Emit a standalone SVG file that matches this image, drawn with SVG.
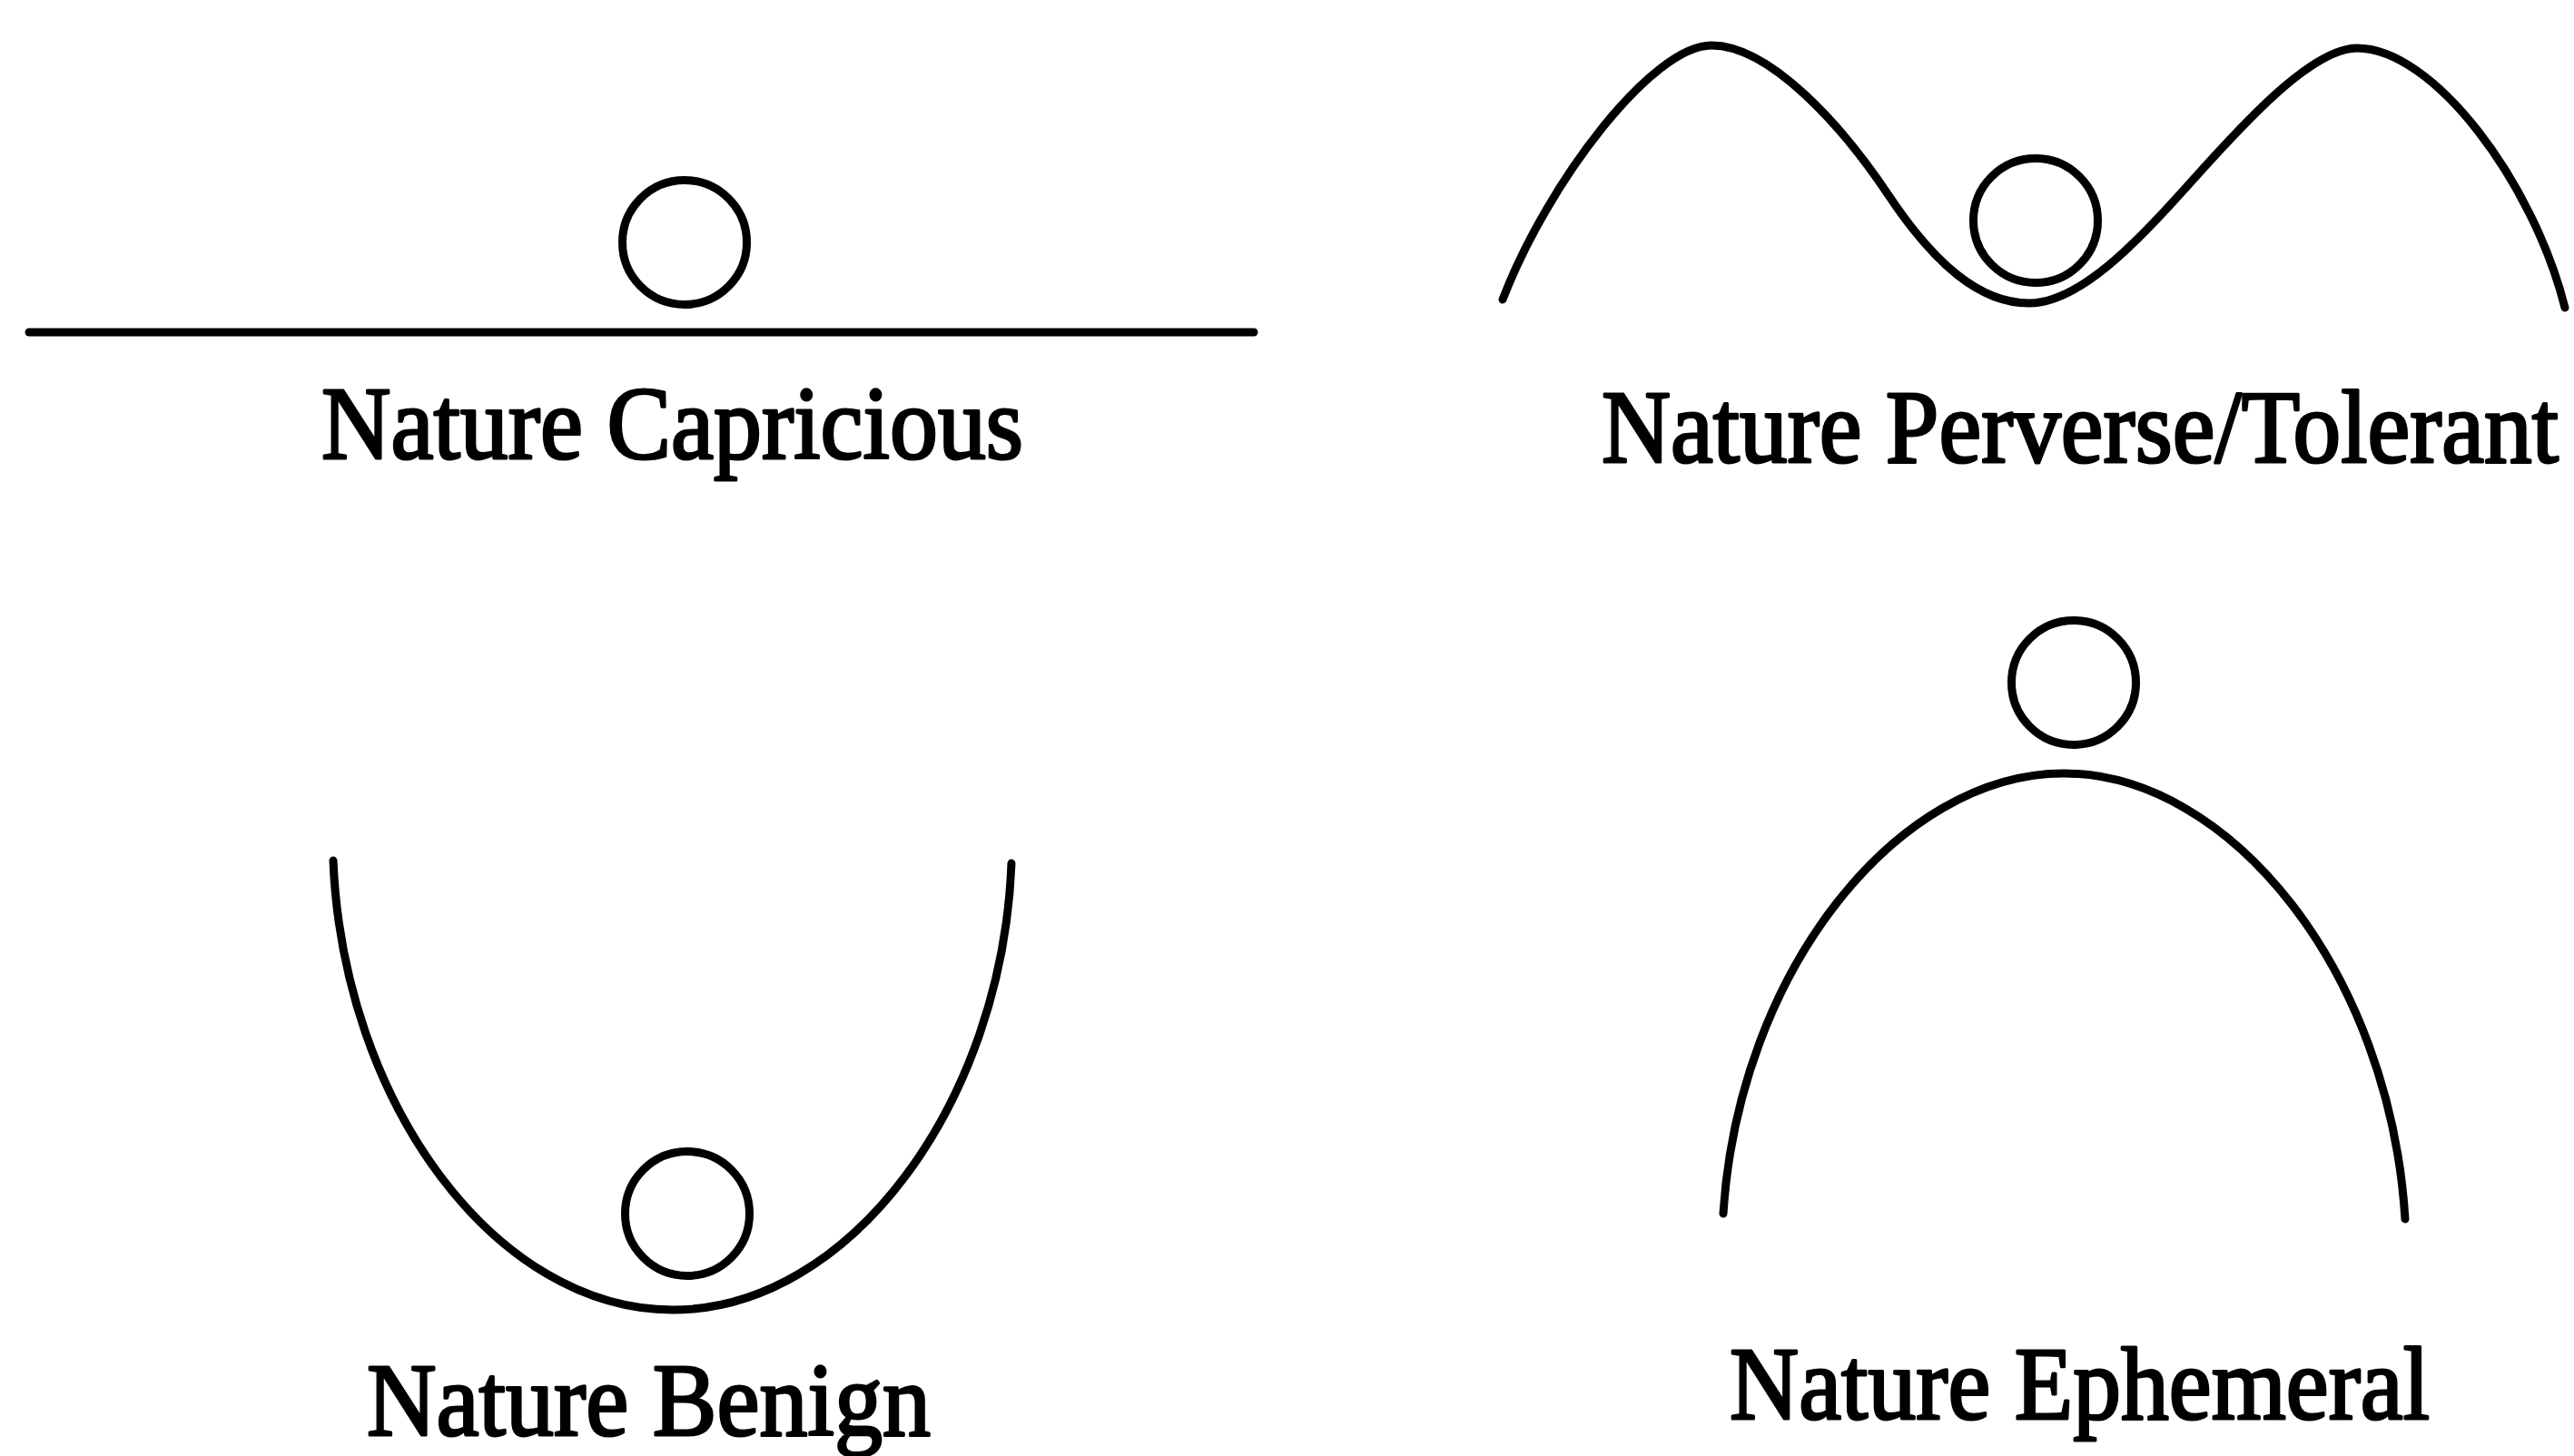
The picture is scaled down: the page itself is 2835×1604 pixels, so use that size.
<svg xmlns="http://www.w3.org/2000/svg" width="2835" height="1604" viewBox="0 0 2835 1604">
<style>
.ln{fill:none;stroke:#000;stroke-width:9;stroke-linecap:round;stroke-linejoin:round}
.ball{fill:none;stroke:#000;stroke-width:9}
.lbl{font-family:"Liberation Serif","Times New Roman",serif;font-size:114px;fill:#000;stroke:#000;stroke-width:3;stroke-linejoin:round}
</style>
<rect width="2835" height="1604" fill="#fff"/>
<g id="capricious">
<line class="ln" x1="32" y1="366" x2="1381" y2="366"/>
<circle class="ball" cx="754" cy="267" r="68.5"/>
<text class="lbl" x="354" y="505" textLength="773" lengthAdjust="spacingAndGlyphs">Nature Capricious</text>
</g>
<g id="perverse">
<path class="ln" d="M1655 330 C1705 200 1820 50 1885 50 C1950 50 2030 140 2080 215 C2130 290 2180 334 2235 334 C2290 334 2355 265 2400 215 C2450 160 2540 53 2596 53 C2680 53 2790 200 2825 339"/>
<circle class="ball" cx="2242" cy="243" r="68.5"/>
<text class="lbl" x="1764" y="509" textLength="1054" lengthAdjust="spacingAndGlyphs">Nature Perverse/Tolerant</text>
</g>
<g id="benign">
<path class="ln" d="M367 948 C378 1215 546 1443 741 1443 C936 1443 1104 1215 1114 951"/>
<circle class="ball" cx="757" cy="1337" r="68.5"/>
<text class="lbl" x="404" y="1581" textLength="621" lengthAdjust="spacingAndGlyphs">Nature Benign</text>
</g>
<g id="ephemeral">
<path class="ln" d="M1898 1337 C1915 1070 2090 852 2273 852 C2456 852 2632 1070 2649 1343"/>
<circle class="ball" cx="2284" cy="752" r="68.5"/>
<text class="lbl" x="1905" y="1563" textLength="771" lengthAdjust="spacingAndGlyphs">Nature Ephemeral</text>
</g>
<g id="connectors"/>
</svg>
